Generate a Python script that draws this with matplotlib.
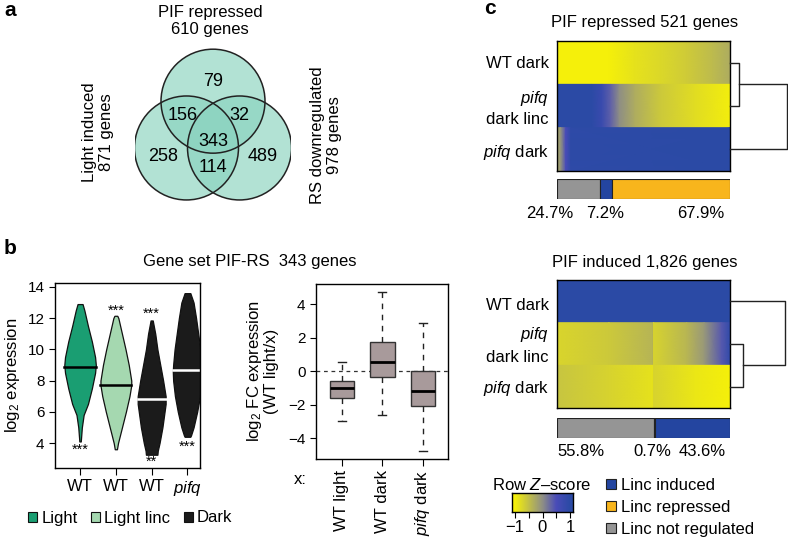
import numpy as np
import matplotlib
matplotlib.use('Agg')
import matplotlib.pyplot as plt
from matplotlib.patches import Circle, Patch
from matplotlib.colors import LinearSegmentedColormap

plt.rcParams['font.family'] = ['Liberation Sans', 'DejaVu Sans']
plt.rcParams['mathtext.fontset'] = 'custom'
plt.rcParams['mathtext.rm'] = 'Liberation Sans'
plt.rcParams['mathtext.it'] = 'Liberation Sans:italic'
plt.rcParams['font.size'] = 12
plt.rcParams['axes.linewidth'] = 1.0

W, H = 788, 540

# ---------------- data ----------------
# a: Venn (left = light induced, top = PIF repressed, right = RS downregulated)
venn_names = ['Light induced', 'PIF repressed', 'RS downregulated']
venn_regions = ['100', '010', '001', '110', '011', '101', '111']
venn_counts = [258, 79, 489, 156, 32, 114, 343]

# b: violins (profile heights and half widths)
violin_ticks = ['WT', 'WT', 'WT', r'$\mathit{pifq}$']
violin_group = ['Light', 'Light linc', 'Dark', 'Dark']
violin_y = [
    [4.1, 5.0, 5.8, 6.5, 7.5, 8.5, 9.0, 9.5, 10.5, 11.5, 12.5, 12.9],
    [3.6, 4.0, 5.0, 6.0, 7.0, 7.7, 8.0, 9.0, 10.0, 11.0, 12.0, 12.15],
    [3.25, 3.5, 4.0, 5.0, 6.0, 6.5, 7.0, 8.0, 9.0, 10.0, 11.0, 11.85],
    [4.4, 4.5, 5.0, 6.0, 7.0, 8.0, 8.6, 9.0, 10.0, 11.0, 12.0, 13.0, 13.6],
]
violin_hw = [
    [0.02, 0.05, 0.10, 0.22, 0.33, 0.42, 0.44, 0.42, 0.33, 0.22, 0.12, 0.07],
    [0.03, 0.06, 0.17, 0.28, 0.38, 0.43, 0.43, 0.36, 0.27, 0.17, 0.07, 0.04],
    [0.16, 0.17, 0.22, 0.30, 0.36, 0.39, 0.39, 0.32, 0.24, 0.16, 0.10, 0.03],
    [0.08, 0.10, 0.17, 0.27, 0.35, 0.40, 0.41, 0.40, 0.36, 0.30, 0.24, 0.17, 0.08],
]
violin_median = [8.9, 7.7, 6.85, 8.65]
stars_top = ['', '***', '***', '']
stars_top_y = [0, 12.45, 12.25, 0]
stars_bot = ['***', '', '**', '***']
stars_bot_y = [3.55, 0, 2.8, 3.75]

# b: boxplot of log2 FC
box_ticks = ['WT light', 'WT dark', r'$\mathit{pifq}$ dark']
box_med = [-1.02, 0.57, -1.18]
box_q1 = [-1.62, -0.37, -2.07]
box_q3 = [-0.62, 1.72, 0.0]
box_lo = [-2.97, -2.65, -4.79]
box_hi = [0.57, 4.73, 2.85]

# c: heatmaps, row z-scores (x = fraction of sorted genes)
row_names = ['WT dark', r'$\mathit{pifq}$', r'$\mathit{pifq}$ dark']
rep_x = [
    [0, 0.3, 0.45, 0.6, 0.75, 0.9, 1.0],
    [0, 0.2, 0.26, 0.31, 0.36, 0.45, 0.6, 0.8, 1.0],
    [0, 0.02, 0.05, 0.08, 1.0],
]
rep_z = [
    [-1.0, -1.0, -0.85, -0.75, -0.62, -0.45, -0.3],
    [1.0, 1.0, 0.75, 0.35, 0.0, -0.3, -0.6, -0.8, -0.97],
    [-0.2, -0.1, 0.5, 0.95, 1.0],
]
ind_x = [
    [0, 1.0],
    [0, 0.3, 0.557, 0.558, 0.75, 0.85, 0.95, 1.0],
    [0, 0.3, 0.557, 0.558, 0.8, 1.0],
]
ind_z = [
    [1.0, 1.0],
    [-0.72, -0.6, -0.38, -0.7, -0.4, -0.1, 0.4, 0.9],
    [-0.55, -0.7, -0.85, -0.7, -0.9, -1.0],
]
rep_pct = [24.7, 7.2, 67.9]
rep_cls = ['not', 'induced', 'repressed']
ind_pct = [55.8, 0.7, 43.6]
ind_cls = ['not', 'repressed', 'induced']
rep_links = [(0, 1, 0.16), (2, 0.98)]
ind_links = [(1, 2, 0.22), (0, 0.95)]

# ---------------- styles ----------------
group_col = {'Light': '#1a9e72', 'Light linc': '#a5d8b0', 'Dark': '#1b1b1b'}
median_col = ['black', 'black', 'white', 'white']
cls_col = {'induced': '#2445a0', 'repressed': '#f8b51c', 'not': '#959595'}
zcmap = LinearSegmentedColormap.from_list(
    'z', [(0, '#f5f00a'), (0.5, '#8f8f85'), (0.75, '#4a4cb8'), (1, '#2b4aa5')])


def px_axes(x0, y0, x1, y1):
    return fig.add_axes([x0 / W, 1 - y1 / H, (x1 - x0) / W, (y1 - y0) / H])


def ftext(x, y, s, **kw):
    kw.setdefault('ha', 'center')
    kw.setdefault('va', 'center')
    fig.text(x / W, 1 - y / H, s, **kw)


fig = plt.figure(figsize=(W / 100, H / 100), dpi=100)

# panel letters
ftext(4, 10, 'a', fontsize=15, fontweight='bold', ha='left')
ftext(4, 249, 'b', fontsize=15, fontweight='bold', ha='left')
ftext(484, 8, 'c', fontsize=15, fontweight='bold', ha='left')

# ---------------- a: Venn ----------------
ax = px_axes(135, 44, 291, 201)
centers = [(-0.51, 0.0), (0.0, 0.9), (0.51, 0.0)]
for c in centers:
    ax.add_patch(Circle(c, 1.0, facecolor='#8ad3bf', alpha=0.66, lw=0))
for c in centers:
    ax.add_patch(Circle(c, 1.0, facecolor='none', edgecolor='#222222', lw=1.1))
label_pos = {'100': (-0.95, -0.17), '010': (0.0, 1.27), '001': (0.95, -0.17),
             '110': (-0.58, 0.63), '011': (0.5, 0.63), '101': (0.0, -0.38),
             '111': (0.0, 0.12)}
for reg, n in zip(venn_regions, venn_counts):
    ax.text(*label_pos[reg], str(n), ha='center', va='center', fontsize=13)
ax.set_xlim(-1.5, 1.5)
ax.set_ylim(-1.02, 2.0)
ax.axis('off')
totals = [sum(n for r, n in zip(venn_regions, venn_counts) if r[i] == '1') for i in range(3)]
ftext(210, 21, f'{venn_names[1]}\n{totals[1]} genes', fontsize=12, linespacing=1.15)
ftext(98, 132, f'{venn_names[0]}\n{totals[0]} genes', fontsize=12, rotation=90, linespacing=1.15)
ftext(326, 135, f'{venn_names[2]}\n{totals[2]} genes', fontsize=12, rotation=90, linespacing=1.15)

# ---------------- b: violins ----------------
ftext(250, 261, 'Gene set PIF-RS  343 genes', fontsize=12)
ax = px_axes(55, 283, 200, 468)
for i in range(4):
    pos = i + 1
    y = np.array(violin_y[i])
    hw = np.array(violin_hw[i])
    ax.fill_betweenx(y, pos - hw, pos + hw, facecolor=group_col[violin_group[i]],
                     edgecolor='#111111', lw=0.9)
    m = violin_median[i]
    w = np.interp(m, y, hw)
    ax.plot([pos - w, pos + w], [m, m], color=median_col[i], lw=1.8)
    if stars_top[i]:
        ax.text(pos, stars_top_y[i], stars_top[i], ha='center', va='center', fontsize=10.5)
    if stars_bot[i]:
        ax.text(pos, stars_bot_y[i], stars_bot[i], ha='center', va='center', fontsize=10.5)
ax.set_xlim(0.3, 4.35)
ax.set_ylim(2.4, 14.25)
ax.set_yticks([4, 6, 8, 10, 12, 14])
ax.set_xticks([1, 2, 3, 4])
ax.set_xticklabels(violin_ticks, fontsize=12)
ax.tick_params(axis='y', labelsize=11, length=4)
ax.tick_params(axis='x', length=5, pad=3)
ax.set_ylabel(r'log$_2$ expression', fontsize=12)
ax.yaxis.set_label_coords(-0.225, 0.5)

handles = [Patch(facecolor=group_col[g], edgecolor='#111111', lw=0.8) for g in ['Light', 'Light linc', 'Dark']]
fig.legend(handles, ['Light', 'Light linc', 'Dark'], ncol=3, loc='center left',
           bbox_to_anchor=(28 / W, 1 - 518 / H), frameon=False, fontsize=12,
           handlelength=0.55, handleheight=0.55, handletextpad=0.25,
           columnspacing=0.8, borderpad=0, borderaxespad=0)

# ---------------- b: boxplot ----------------
ax = px_axes(316, 284, 448, 459)
stats = [dict(med=m, q1=a, q3=b, whislo=lo, whishi=hi, fliers=[])
         for m, a, b, lo, hi in zip(box_med, box_q1, box_q3, box_lo, box_hi)]
ax.axhline(0, color='#333333', lw=0.9, ls=(0, (3, 3)), zorder=0)
ax.bxp(stats, positions=[1, 2, 3], widths=0.6, capwidths=0.2, patch_artist=True,
       boxprops=dict(facecolor='#a89a9b', edgecolor='#333333', lw=1.0),
       medianprops=dict(color='black', lw=2),
       whiskerprops=dict(color='#222222', lw=1.0, ls=(0, (4, 4))),
       capprops=dict(color='#222222', lw=1.0))
ax.set_xlim(0.36, 3.62)
ax.set_ylim(-5.25, 5.2)
ax.set_yticks([-4, -2, 0, 2, 4])
ax.set_yticklabels(['\u22124', '\u22122', '0', '2', '4'])
ax.set_xticks([1, 2, 3])
ax.set_xticklabels(box_ticks, rotation=90, fontsize=12)
ax.tick_params(axis='y', labelsize=11, length=4)
ax.tick_params(axis='x', length=5, pad=3)
ax.set_ylabel('log$_2$ FC expression\n(WT light/x)', fontsize=12, linespacing=1.0)
ax.yaxis.set_label_coords(-0.28, 0.5)
ftext(300, 480, 'x:', fontsize=12)


# ---------------- c: heatmaps ----------------
def heatmap(box, xs, zs, title, ty, bar_box, pct, cls, pct_pos, dbox, links, label_y):
    ax = px_axes(*box)
    for r, (x, z) in enumerate(zip(xs, zs)):
        zz = np.vstack([z, z])
        ax.pcolormesh(np.array(x), [r, r + 1], zz, shading='gouraud',
                      cmap=zcmap, vmin=-1, vmax=1)
    ax.set_xlim(0, 1)
    ax.set_ylim(3, 0)
    ax.set_xticks([])
    ax.set_yticks([])
    ftext((box[0] + box[2]) / 2 + 1, ty, title, fontsize=12)
    # row labels
    ftext(549, label_y[0], 'WT dark', ha='right', fontsize=12)
    ftext(549, label_y[1], row_names[1], ha='right', fontsize=12)
    ftext(549, label_y[2], 'dark linc', ha='right', fontsize=12)
    ftext(549, label_y[3], row_names[2], ha='right', fontsize=12)
    # class bar
    bx = px_axes(*bar_box)
    left = 0
    for p, c in zip(pct, cls):
        bx.barh(0, p, left=left, height=1, color=cls_col[c], edgecolor='#222222', lw=0.8)
        left += p
    bx.set_xlim(0, 100)
    bx.set_ylim(-0.5, 0.5)
    bx.axis('off')
    for p, xp in zip(pct, pct_pos):
        bx.text(xp, -1.2, f'{p}%', ha='center', va='center', fontsize=12)
    # dendrogram
    dx = px_axes(*dbox)
    (a, b, h1), (o, h2) = links
    ya, yb, yo = a + 0.5, b + 0.5, o + 0.5
    kw = dict(color='#222222', lw=1.0, clip_on=False)
    dx.plot([0, h1, h1, 0], [ya, ya, yb, yb], **kw)
    mid = (ya + yb) / 2
    dx.plot([h1, h2, h2, 0], [mid, mid, yo, yo], **kw)
    dx.set_xlim(0, 1)
    dx.set_ylim(3, 0)
    dx.axis('off')


heatmap((557, 41, 730, 171), rep_x, rep_z, 'PIF repressed 521 genes', 23,
        (557, 179, 730, 199), rep_pct, rep_cls, [-4, 28, 83],
        (730, 41, 788, 171), rep_links, [63, 98, 120, 152])
heatmap((557, 280, 730, 408), ind_x, ind_z, 'PIF induced 1,826 genes', 262,
        (557, 418, 730, 438), ind_pct, ind_cls, [14, 55, 84],
        (730, 280, 788, 408), ind_links, [305, 334, 358, 388])

# colour key
cx = px_axes(512, 493, 573, 512)
grad = np.linspace(-1.1, 1.1, 200)[None, :]
cx.imshow(grad, aspect='auto', cmap=zcmap, vmin=-1, vmax=1,
          extent=[-1.1, 1.1, 0, 1])
cx.set_yticks([])
cx.set_xticks([-1, -0.5, 0, 0.5, 1])
cx.set_xticklabels(['\u22121', '', '0', '', '1'], fontsize=12)
cx.tick_params(axis='x', length=4, pad=2)
ftext(542, 485, 'Row $\\mathit{Z}$\u2013score', fontsize=12)

handles = [Patch(facecolor=cls_col[c], edgecolor='#222222', lw=0.8)
           for c in ['induced', 'repressed', 'not']]
fig.legend(handles, ['Linc induced', 'Linc repressed', 'Linc not regulated'],
           loc='upper left', bbox_to_anchor=(606 / W, 1 - 478 / H), frameon=False,
           fontsize=12, handlelength=0.6, handleheight=0.6, handletextpad=0.3,
           labelspacing=0.42, borderpad=0, borderaxespad=0)

fig.savefig('out.png', dpi=100)
